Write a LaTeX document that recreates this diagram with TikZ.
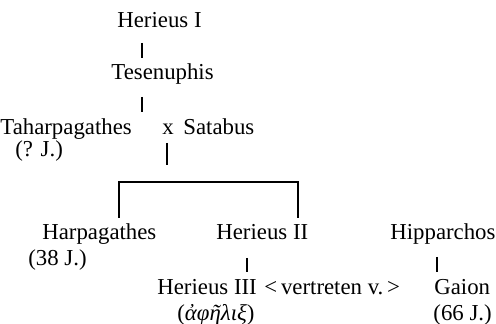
\documentclass[tikz,border=0pt]{standalone}
\usepackage{fontspec}
\setmainfont{Liberation Serif}
\begin{document}
\begin{tikzpicture}[x=0.5pt,y=-0.5pt,
  lbl/.style={inner sep=0pt,anchor=base west,font=\fontsize{11.4pt}{13pt}\selectfont},
  ln/.style={line width=0.75pt}]
\useasboundingbox (0,0) rectangle (496,324);
\node[lbl] (h1) at (117,28) {Herieus I};
\node[lbl] (tes) at (111,80) {Tesenuphis};
\node[lbl] (tah) at (0,135) {Taharpagathes};
\node[lbl] (x) at (162,135) {x};
\node[lbl] (sat) at (183,135) {Satabus};
\node[lbl] (tahy) at (15,157) {(? J.)};
\node[lbl] (harp) at (42,240) {Harpagathes};
\node[lbl] (harpy) at (28,266) {(38 J.)};
\node[lbl] (h2) at (216,240) {Herieus II};
\node[lbl] (hip) at (390,240) {Hipparchos};
\node[lbl] (h3) at (157,295) {Herieus III};
\node[lbl] (vert) at (264,295) {<\,vertreten v.\,>};
\node[lbl] (aph) at (177,321) {(\textit{ἀφῆλιξ})};
\node[lbl] (gai) at (434,295) {Gaion};
\node[lbl] (gaiy) at (433,321) {(66 J.)};
% connector end points
\coordinate (a1) at (142,43); \coordinate (a2) at (142,58);
\coordinate (b1) at (142,97); \coordinate (b2) at (142,112);
\coordinate (c1) at (167,143); \coordinate (c2) at (167,165);
\coordinate (d1) at (119,218); \coordinate (d2) at (119,182);
\coordinate (d3) at (298,182); \coordinate (d4) at (298,218);
\coordinate (e1) at (247,258); \coordinate (e2) at (247,272);
\coordinate (f1) at (437,257); \coordinate (f2) at (437,272);
\draw[ln] (a1) -- (a2);
\draw[ln] (b1) -- (b2);
\draw[ln] (c1) -- (c2);
\draw[ln] (d1) -- (d2) -- (d3) -- (d4);
\draw[ln] (e1) -- (e2);
\draw[ln] (f1) -- (f2);
\end{tikzpicture}
\end{document}
